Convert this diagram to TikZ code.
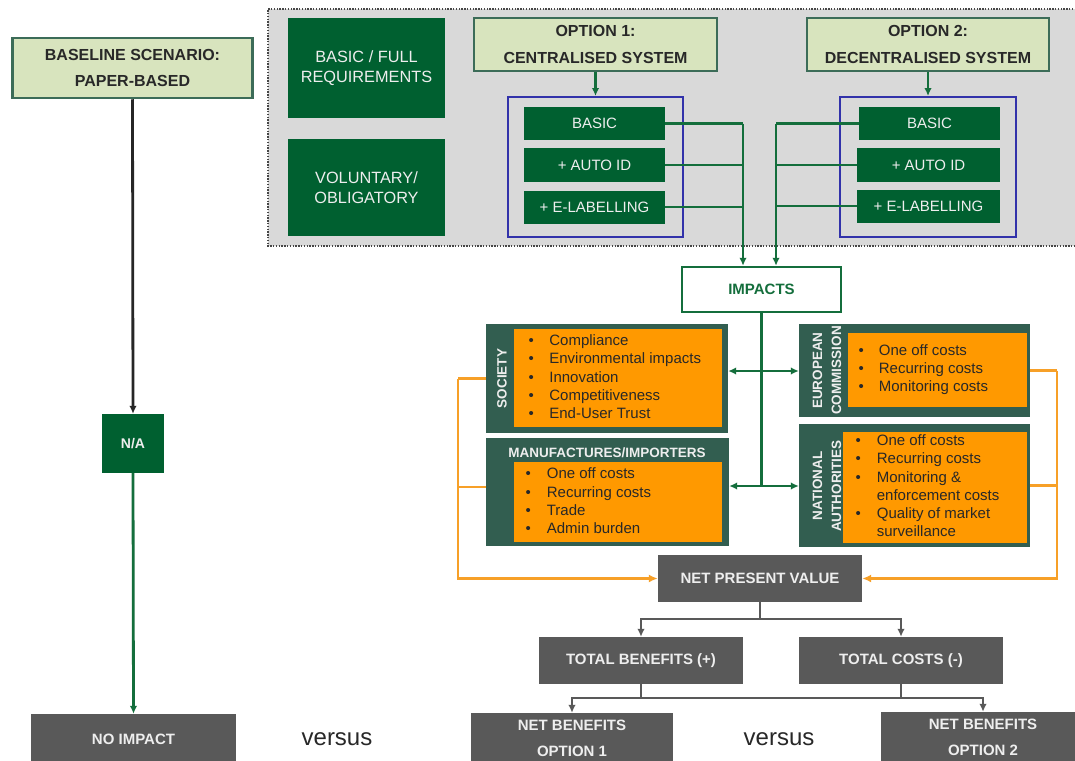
\documentclass[tikz,border=0pt]{standalone}
\usepackage{fontspec}
\setmainfont{Liberation Sans}
\usetikzlibrary{arrows.meta}
\definecolor{cDGreen}{RGB}{0,96,48}
\definecolor{cLGreen}{RGB}{216,228,190}
\definecolor{cBGreen}{RGB}{60,108,88}
\definecolor{cTeal}{RGB}{50,94,80}
\definecolor{cOrange}{RGB}{255,153,0}
\definecolor{cGray}{RGB}{89,89,89}
\definecolor{cBlue}{RGB}{50,50,170}
\definecolor{cBg}{RGB}{217,217,217}
\definecolor{cLine}{RGB}{20,110,60}
\definecolor{cOLine}{RGB}{247,160,40}
\definecolor{cTxt}{RGB}{40,40,40}
\definecolor{cLight}{RGB}{238,238,238}
\definecolor{cDot}{RGB}{70,70,70}
\tikzset{
  box/.style={inner sep=0pt, align=center},
  greenbox/.style={box, fill=cDGreen, text=cLight, font=\fontsize{15}{20}\selectfont},
  lgbox/.style={box, fill=cLGreen, draw=cBGreen, line width=2.5pt, text=cTxt, font=\bfseries\fontsize{16}{26.5}\selectfont},
  graybox/.style={box, fill=cGray, text=cLight, font=\bfseries\fontsize{15}{26}\selectfont},
  tealbox/.style={box, fill=cTeal},
  orbox/.style={box, fill=cOrange},
  bluebox/.style={box, draw=cBlue, line width=2pt},
  impbox/.style={box, fill=white, draw=cLine, line width=2.5pt, text=cLine, font=\bfseries\fontsize{15}{20}\selectfont},
  rotlabel/.style={box, rotate=90, text=cLight, font=\bfseries\fontsize{13.5}{19}\selectfont},
  hdrlabel/.style={box, text=cLight, font=\bfseries\fontsize{13.5}{19}\selectfont},
  blist/.style={anchor=west, inner sep=0pt, text=cTxt, font=\fontsize{15}{18.3}\selectfont},
  versus/.style={inner sep=0pt, text=cTxt, font=\fontsize{24}{28}\selectfont},
  gline/.style={draw=cLine, line width=2.8pt},
  garrow/.style={gline, -{Latex[length=8pt,width=7.5pt]}},
  oline/.style={draw=cOLine, line width=2.8pt},
  oarrow/.style={oline, -{Latex[length=9pt,width=8pt]}},
  kline/.style={draw=cGray, line width=2.8pt},
  karrow/.style={kline, -{Latex[length=8pt,width=7.5pt]}},
  barrow/.style={draw=black!85, line width=2.8pt, -{Latex[length=8pt,width=7.5pt]}},
}
\begin{document}
\begin{tikzpicture}[x=1pt,y=-1pt]
\useasboundingbox (0,0) rectangle (1075,760);
\clip (0,0) rectangle (1075,760);
\fill[white] (0,0) rectangle (1075,760);
% grey panel
\fill[cBg] (268,9) rectangle (1090,246);
\draw[cDot, line width=1.6pt, dash pattern=on 1.4pt off 1.4pt] (1090,9) -- (268,9) -- (268,246) -- (1090,246);

% baseline column
\node[lgbox, minimum width=240, minimum height=60] (base) at (132.5,68) {BASELINE SCENARIO:\\PAPER-BASED};
\node[greenbox, font=\bfseries\fontsize{14}{18}\selectfont, minimum width=62, minimum height=59] (na) at (133,443.5) {N/A};
\node[graybox, minimum width=205, minimum height=50] (noimp) at (133.5,739) {NO IMPACT};

% requirement boxes
\node[greenbox, font=\fontsize{16.3}{20}\selectfont, minimum width=157, minimum height=100] (req) at (366.5,68) {BASIC / FULL\\REQUIREMENTS};
\node[greenbox, font=\fontsize{16.3}{20}\selectfont, minimum width=157, minimum height=97] (vol) at (366.5,187.5) {VOLUNTARY/\\OBLIGATORY};

% options
\node[lgbox, minimum width=243, minimum height=53] (opt1) at (595.5,44.5) {OPTION 1:\\CENTRALISED SYSTEM};
\node[lgbox, minimum width=242, minimum height=53] (opt2) at (928,44.5) {OPTION 2:\\DECENTRALISED SYSTEM};
\node[bluebox, minimum width=175, minimum height=140] (blue1) at (595.5,167) {};
\node[bluebox, minimum width=176, minimum height=140] (blue2) at (928,167) {};
\node[greenbox, minimum width=141, minimum height=33] (o1a) at (594.5,123.5) {BASIC};
\node[greenbox, minimum width=141, minimum height=34] (o1b) at (594.5,165) {+ AUTO ID};
\node[greenbox, minimum width=141, minimum height=33] (o1c) at (594.5,207) {+ E-LABELLING};
\node[greenbox, minimum width=141, minimum height=33] (o2a) at (929.5,123.5) {BASIC};
\node[greenbox, minimum width=143, minimum height=34] (o2b) at (928.5,165) {+ AUTO ID};
\node[greenbox, minimum width=143, minimum height=33] (o2c) at (928.5,206) {+ E-LABELLING};

% impacts
\node[impbox, minimum width=159, minimum height=45] (imp) at (761.5,289.5) {IMPACTS};

% society
\node[tealbox, minimum width=242, minimum height=109] (soc) at (607,378.5) {};
\node[orbox, minimum width=208, minimum height=98] (soci) at (618,378) {};
\node[rotlabel] (soclab) at (502,378.5) {SOCIETY};
\node[blist] (socl) at (528.4,378.5) {\begin{tabular}{@{}l@{\hspace{15.5pt}}l@{}}
\textbullet&Compliance\\ \textbullet&Environmental impacts\\ \textbullet&Innovation\\ \textbullet&Competitiveness\\ \textbullet&End-User Trust\end{tabular}};

% manufacturers
\node[tealbox, minimum width=243, minimum height=108] (man) at (607.5,492) {};
\node[orbox, minimum width=208, minimum height=80] (mani) at (618,502) {};
\node[hdrlabel] (manlab) at (607,453) {MANUFACTURES/IMPORTERS};
\node[blist] (manl) at (525.4,502.5) {\begin{tabular}{@{}l@{\hspace{16pt}}l@{}}
\textbullet&One off costs\\ \textbullet&Recurring costs\\ \textbullet&Trade\\ \textbullet&Admin burden\end{tabular}};

% European Commission
\node[tealbox, minimum width=231, minimum height=93] (ec) at (914.5,370.5) {};
\node[orbox, minimum width=179, minimum height=74] (eci) at (937.5,370) {};
\node[rotlabel] (eclab) at (827,370.5) {EUROPEAN\\COMMISSION};
\node[blist] (ecl) at (858.4,370) {\begin{tabular}{@{}l@{\hspace{15pt}}l@{}}
\textbullet&One off costs\\ \textbullet&Recurring costs\\ \textbullet&Monitoring costs\end{tabular}};

% National authorities
\node[tealbox, minimum width=231, minimum height=123] (nat) at (914.5,485.5) {};
\node[orbox, minimum width=184, minimum height=111] (nati) at (935,487.5) {};
\node[rotlabel] (natlab) at (827,486) {NATIONAL\\AUTHORITIES};
\node[blist] (natl) at (855.4,487.5) {\begin{tabular}{@{}l@{\hspace{16pt}}l@{}}
\textbullet&One off costs\\ \textbullet&Recurring costs\\ \textbullet&Monitoring \&\\ &enforcement costs\\ \textbullet&Quality of market\\ &surveillance\end{tabular}};

% NPV and totals
\node[graybox, minimum width=204, minimum height=47] (npv) at (760,578.5) {NET PRESENT VALUE};
\node[graybox, minimum width=204, minimum height=47] (tb) at (641,660.5) {TOTAL BENEFITS (+)};
\node[graybox, minimum width=204, minimum height=47] (tc) at (901,660.5) {TOTAL COSTS (-)};
\node[graybox, minimum width=202, minimum height=50] (nb1) at (572,738) {NET BENEFITS\\OPTION 1};
\node[graybox, minimum width=204, minimum height=50] (nb2) at (983,737) {NET BENEFITS\\OPTION 2};
\node[versus] (vs1) at (337,739) {versus};
\node[versus] (vs2) at (779,739) {versus};

% ---- connectors ----
\draw[barrow] (base.south) -- (na.north);
\draw[garrow] (na.south) -- (noimp.north);
\draw[garrow] (opt1.south) -- (blue1.north);
\draw[garrow] (opt2.south) -- (blue2.north);

\coordinate (j1) at (743,0);
\coordinate (j2) at (776,0);
\draw[gline] (o1a.east) -- (o1a.east -| j1);
\draw[gline] (o1b.east) -- (o1b.east -| j1);
\draw[gline] (o1c.east) -- (o1c.east -| j1);
\draw[garrow] (o1a.east -| j1) -- (imp.north -| j1);
\draw[gline] (o2a.west) -- (o2a.west -| j2);
\draw[gline] (o2b.west) -- (o2b.west -| j2);
\draw[gline] (o2c.west) -- (o2c.west -| j2);
\draw[garrow] (o2a.west -| j2) -- (imp.north -| j2);

\coordinate (r1) at (0,371);
\coordinate (r2) at (0,486);
\draw[gline] (imp.south) -- (imp.south |- r2);
\draw[garrow] (imp.south |- r1) -- (soc.east |- r1);
\draw[garrow] (imp.south |- r1) -- (ec.west |- r1);
\draw[garrow] (imp.south |- r2) -- (man.east |- r2);
\draw[garrow] (imp.south |- r2) -- (nat.west |- r2);

\coordinate (ol) at (458,0);
\coordinate (orr) at (1057,0);
\coordinate (m1) at (0,487);
\draw[oline] (soc.west) -- (soc.west -| ol);
\draw[oline] (man.west |- m1) -- (ol |- m1);
\draw[oarrow] (soc.west -| ol) |- (npv.west);
\draw[oline] (ec.east) -- (ec.east -| orr);
\draw[oline] (nat.east) -- (nat.east -| orr);
\draw[oarrow] (ec.east -| orr) |- (npv.east);

\coordinate (h1) at (0,619);
\coordinate (h2) at (0,698);
\draw[kline] (npv.south) -- (npv.south |- h1);
\draw[karrow] (npv.south |- h1) -| (tb.north);
\draw[karrow] (npv.south |- h1) -| (tc.north);
\draw[kline] (tb.south) -- (tb.south |- h2);
\draw[kline] (tc.south) -- (tc.south |- h2);
\draw[kline] (tb.south |- h2) -- (tc.south |- h2);
\draw[karrow] (tb.south |- h2) -| (nb1.north);
\draw[karrow] (tc.south |- h2) -| (nb2.north);
\end{tikzpicture}
\end{document}
